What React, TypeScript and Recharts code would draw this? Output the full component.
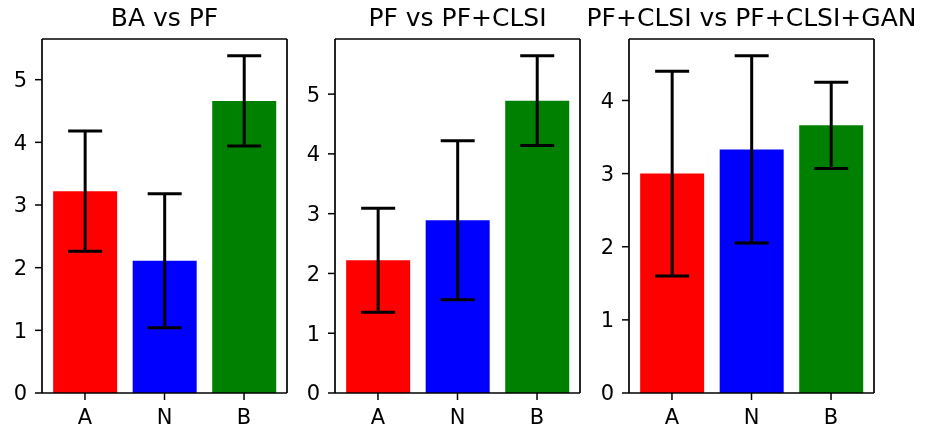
import React from "react";
import { BarChart, Bar, XAxis, YAxis, ErrorBar, Cell } from "recharts";

// categories shared by all three panels
const categories = ["A", "N", "B"];

// panel 1: BA vs PF
const baPfMean = [3.22, 2.11, 4.66];
const baPfErr = [0.96, 1.07, 0.72];

// panel 2: PF vs PF+CLSI
const pfClsiMean = [2.22, 2.89, 4.89];
const pfClsiErr = [0.87, 1.33, 0.75];

// panel 3: PF+CLSI vs PF+CLSI+GAN
const ganMean = [3.0, 3.33, 3.66];
const ganErr = [1.4, 1.28, 0.59];

const ticks5 = [0, 1, 2, 3, 4, 5];
const ticks4 = [0, 1, 2, 3, 4];

const barColors = ["#ff0000", "#0000ff", "#008000"];
const FONT = "DejaVu Sans, sans-serif";
const spine = { stroke: "#000", strokeWidth: 1.7 };

type PanelProps = { title: string; means: number[]; errs: number[]; ticks: number[]; left: number };

function Panel({ title, means, errs, ticks, left }: PanelProps) {
  const data = categories.map((c, i) => ({ name: c, value: means[i], err: errs[i] }));
  // matplotlib-style autoscale: 5% margin above the highest error bar
  const ymax = Math.max(...data.map((d) => d.value + d.err)) * 1.05;
  const tickStyle = { fill: "#000", fontSize: 21, fontFamily: FONT };

  return (
    <div style={{ position: "absolute", left, top: 0, width: 300, height: 431 }}>
      <div
        style={{
          position: "absolute", left: 42 - 100, top: 5, width: 445, textAlign: "center",
          fontFamily: FONT, fontSize: 25, lineHeight: "25px", color: "#000", whiteSpace: "nowrap",
        }}
      >
        {title}
      </div>
      <BarChart width={300} height={431} data={data} margin={{ top: 38, right: 12, left: 0, bottom: 0 }} barCategoryGap="10%">
        <XAxis
          dataKey="name"
          height={38}
          padding={{ left: 3.2, right: 3.2 }}
          tick={tickStyle}
          tickSize={7}
          tickMargin={9}
          axisLine={spine}
          tickLine={{ stroke: "#000", strokeWidth: 1.5 }}
        />
        <XAxis xAxisId="top" orientation="top" dataKey="name" height={1} tick={false} tickLine={false} axisLine={spine} />
        <YAxis
          type="number"
          width={42}
          domain={[0, ymax]}
          ticks={ticks}
          allowDataOverflow
          tick={tickStyle}
          tickSize={7}
          tickMargin={8}
          axisLine={spine}
          tickLine={{ stroke: "#000", strokeWidth: 1.5 }}
        />
        <YAxis yAxisId="right" orientation="right" width={1} domain={[0, ymax]} tick={false} tickLine={false} axisLine={spine} />
        <Bar dataKey="value" isAnimationActive={false}>
          {data.map((d, i) => (
            <Cell key={d.name} fill={barColors[i]} />
          ))}
          <ErrorBar dataKey="err" width={17} stroke="#000" strokeWidth={3} direction="y" />
        </Bar>
      </BarChart>
    </div>
  );
}

export default function App() {
  return (
    <div style={{ position: "fixed", left: 0, top: 0, width: 925, height: 431, background: "#fff" }}>
      <Panel title="BA vs PF" means={baPfMean} errs={baPfErr} ticks={ticks5} left={0} />
      <Panel title="PF vs PF+CLSI" means={pfClsiMean} errs={pfClsiErr} ticks={ticks5} left={293} />
      <Panel title="PF+CLSI vs PF+CLSI+GAN" means={ganMean} errs={ganErr} ticks={ticks4} left={587} />
    </div>
  );
}
